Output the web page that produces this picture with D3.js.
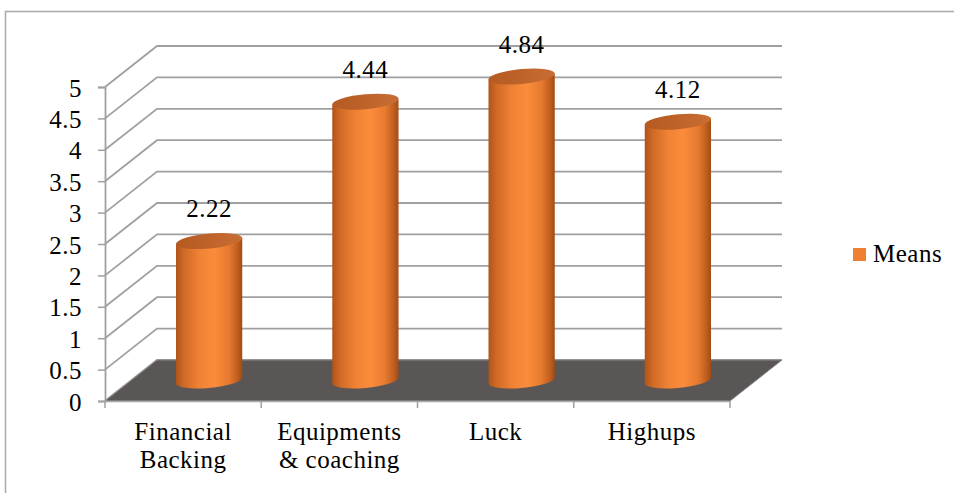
<!DOCTYPE html>
<html>
<head>
<meta charset="utf-8">
<script src="https://cdn.jsdelivr.net/npm/d3@7"></script>
<style>
  html, body { margin: 0; padding: 0; background: #ffffff; }
</style>
</head>
<body>
<svg id="chart" width="954" height="493"></svg>
<script>
// Survey means per factor
const categories = ["Financial Backing", "Equipments & coaching", "Luck", "Highups"];
const categoryLines = [["Financial", "Backing"], ["Equipments", "& coaching"], ["Luck"], ["Highups"]];
const means = [2.22, 4.44, 4.84, 4.12];
const yTicks = [0, 0.5, 1, 1.5, 2, 2.5, 3, 3.5, 4, 4.5, 5];
const seriesName = "Means";

const svg = d3.select("#chart");
const W = 954, H = 493;

// 3D box geometry: front plane, plus depth offset toward the back wall
const x0 = 105, x1 = 730;
const depthX = 52, depthY = 41;
const FONT = 25, SPACING = 0.5, FAMILY = '"Liberation Serif", "Times New Roman", serif';
const styleText = sel => sel.style("font-family", FAMILY).style("font-size", FONT + "px")
  .style("letter-spacing", SPACING + "px").style("fill", "#000");

const x = d3.scaleBand().domain(categories).range([x0, x1]).padding(0);
const y = d3.scaleLinear().domain([0, 5]).range([401, 87]);
// value position at mid-depth, where the cylinders stand
const yMid = v => y(v) - depthY / 2;

// outer frame
svg.append("path")
  .attr("d", `M5.5,${H} L5.5,11.5 L${W},11.5`)
  .attr("fill", "none").attr("stroke", "#a9a9a9").attr("stroke-width", 1.5);

const defs = svg.append("defs");
const bodyGrad = defs.append("linearGradient").attr("id", "cylBody")
  .attr("x1", "0").attr("x2", "1").attr("y1", "0").attr("y2", "0");
[[0, "#b0541a"], [0.12, "#d06a26"], [0.35, "#ef8234"], [0.58, "#fb8c3b"], [0.8, "#e67a2f"], [0.93, "#bf5e1e"], [1, "#a04c14"]]
  .forEach(([o, c]) => bodyGrad.append("stop").attr("offset", o).attr("stop-color", c));
const topGrad = defs.append("linearGradient").attr("id", "cylTop")
  .attr("x1", "0").attr("x2", "1").attr("y1", "0").attr("y2", "0");
[[0, "#b45a22"], [0.6, "#c0652c"], [1, "#c86d33"]]
  .forEach(([o, c]) => topGrad.append("stop").attr("offset", o).attr("stop-color", c));

// wall gridlines: side wall diagonals and back wall horizontals
const grid = svg.append("g").attr("stroke", "#a0a0a0").attr("stroke-width", 1.8).attr("fill", "none");
yTicks.forEach(v => {
  grid.append("path")
    .attr("d", `M${x0},${y(v)} L${x0 + depthX},${y(v) - depthY} L${x1 + depthX},${y(v) - depthY}`);
});

// floor
svg.append("path")
  .attr("d", `M${x0},${y(0)} L${x1},${y(0)} L${x1 + depthX},${y(0) - depthY} L${x0 + depthX},${y(0) - depthY} Z`)
  .attr("fill", "#5a5655").attr("stroke", "#8a8888").attr("stroke-width", 1);

// vertical axis with ticks and labels
const yAxis = d3.axisLeft(y).tickValues(yTicks).tickSize(7).tickPadding(16)
  .tickFormat(d => String(d));
const ya = svg.append("g").attr("transform", `translate(${x0},0)`).call(yAxis);
ya.select(".domain").attr("stroke", "#a0a0a0").attr("stroke-width", 1.8);
ya.selectAll(".tick line").attr("stroke", "#a0a0a0").attr("stroke-width", 1.5);
ya.selectAll(".tick text").attr("dy", 9).call(styleText);

// category axis along the floor front edge
svg.append("line").attr("x1", x0).attr("x2", x1).attr("y1", y(0) + 0.5).attr("y2", y(0) + 0.5)
  .attr("stroke", "#a8a8a8").attr("stroke-width", 1.5);
const bounds = categories.map(c => x(c)).concat([x1]);
svg.append("g").selectAll("line").data(bounds).join("line")
  .attr("x1", d => d).attr("x2", d => d).attr("y1", y(0)).attr("y2", y(0) + 7)
  .attr("stroke", "#a0a0a0").attr("stroke-width", 1.5);

const catLabels = svg.append("g").selectAll("text").data(categories).join("text")
  .attr("text-anchor", "middle").call(styleText)
  .attr("transform", d => `translate(${x(d) + x.bandwidth() / 2},440)`);
catLabels.each(function (d, i) {
  const t = d3.select(this);
  categoryLines[i].forEach((line, j) => {
    t.append("tspan").attr("x", 0).attr("y", j * 28).text(line);
  });
});

// cylinders
const rx = x.bandwidth() * 0.212, ry = 7.5, tilt = -5;
const bars = svg.append("g").selectAll("g").data(categories).join("g")
  .attr("transform", d => `translate(${x(d) + x.bandwidth() / 2 + depthX / 2},0) skewY(${tilt})`);
bars.append("path")
  .attr("fill", "url(#cylBody)")
  .attr("d", (d, i) => {
    const yt = yMid(means[i]), yb = yMid(0);
    return `M${-rx},${yt} L${-rx},${yb} A${rx},${ry} 0 0 0 ${rx},${yb} L${rx},${yt} Z`;
  });
bars.append("ellipse")
  .attr("cx", 0).attr("cy", (d, i) => yMid(means[i]))
  .attr("rx", rx).attr("ry", ry)
  .attr("fill", "url(#cylTop)");

// value labels above each cylinder
svg.append("g").selectAll("text").data(categories).join("text")
  .attr("text-anchor", "middle").call(styleText)
  .attr("x", d => x(d) + x.bandwidth() / 2 + depthX / 2)
  .attr("y", (d, i) => yMid(means[i]) - 24)
  .text((d, i) => means[i].toFixed(2));

// legend
const legend = svg.append("g").attr("transform", "translate(853,248)");
legend.append("rect").attr("width", 13).attr("height", 13).attr("fill", "#ef7f31");
legend.append("text").attr("x", 20).attr("y", 14).call(styleText).text(seriesName);
</script>
</body>
</html>
